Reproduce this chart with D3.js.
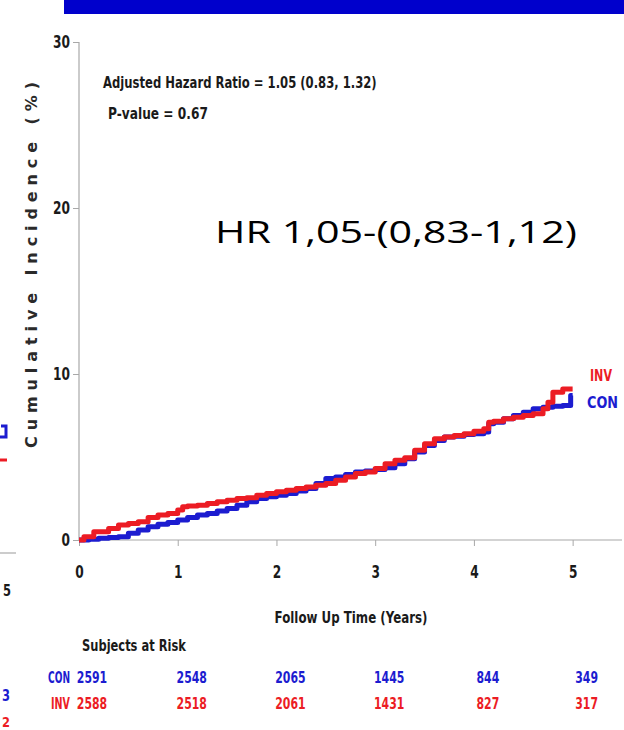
<!DOCTYPE html>
<html>
<head>
<meta charset="utf-8">
<script src="https://cdn.jsdelivr.net/npm/d3@7"></script>
<style>
  body { margin: 0; background: #fff; }
  svg { display: block; }
</style>
</head>
<body>
<div id="chart"></div>
<script>
// values
const years = [0, 1, 2, 3, 4, 5];
const yTicks = [0, 10, 20, 30];
const conAtRisk = [2591, 2548, 2065, 1445, 844, 349];
const invAtRisk = [2588, 2518, 2061, 1431, 827, 317];

const conTime = [0, 0.1, 0.2, 0.3, 0.4, 0.5, 0.6, 0.7, 0.8, 0.9, 1.0, 1.1, 1.2, 1.3, 1.4, 1.5, 1.6, 1.7, 1.8, 1.9,
  2.0, 2.1, 2.2, 2.3, 2.4, 2.5, 2.6, 2.7, 2.8, 2.9, 3.0, 3.1, 3.2, 3.3, 3.4, 3.5, 3.6, 3.7, 3.8, 3.9,
  4.0, 4.1, 4.15, 4.2, 4.3, 4.4, 4.5, 4.6, 4.7, 4.8, 4.9, 4.98, 5.0];
const conIncidence = [0, 0.05, 0.1, 0.15, 0.2, 0.4, 0.6, 0.8, 0.95, 1.05, 1.2, 1.35, 1.5, 1.6, 1.75, 1.9, 2.1, 2.3, 2.5, 2.6,
  2.7, 2.8, 2.95, 3.1, 3.4, 3.7, 3.8, 3.95, 4.1, 4.15, 4.25, 4.35, 4.6, 4.9, 5.3, 5.7, 6.0, 6.2, 6.25, 6.35,
  6.4, 6.5, 7.0, 7.1, 7.3, 7.5, 7.7, 7.9, 8.0, 8.05, 8.1, 8.7, 8.7];

const invTime = [0, 0.05, 0.15, 0.3, 0.4, 0.5, 0.6, 0.7, 0.8, 0.9, 1.0, 1.05, 1.1, 1.2, 1.3, 1.4, 1.5, 1.6, 1.7, 1.8, 1.9,
  2.0, 2.1, 2.2, 2.3, 2.4, 2.5, 2.6, 2.7, 2.8, 2.9, 3.0, 3.1, 3.2, 3.3, 3.4, 3.5, 3.6, 3.7, 3.8, 3.9,
  4.0, 4.1, 4.15, 4.2, 4.3, 4.4, 4.5, 4.6, 4.7, 4.75, 4.8, 4.9, 5.0];
const invIncidence = [0, 0.2, 0.5, 0.7, 0.9, 1.0, 1.1, 1.35, 1.5, 1.6, 1.8, 2.0, 2.05, 2.1, 2.2, 2.3, 2.4, 2.5, 2.55, 2.7, 2.8,
  2.9, 3.0, 3.1, 3.2, 3.3, 3.4, 3.6, 3.8, 4.0, 4.1, 4.3, 4.6, 4.8, 4.95, 5.4, 5.8, 6.1, 6.2, 6.3, 6.4,
  6.55, 6.7, 7.1, 7.15, 7.3, 7.4, 7.5, 7.6, 7.9, 8.3, 8.9, 9.1, 9.1];

const RED = '#ec1c24';
const BLUE = '#1c1cd0';
const INK = '#1a1a1a';
const font = "'DejaVu Sans', sans-serif";

const width = 624, height = 730;

const svg = d3.select('#chart').append('svg')
    .attr('width', width)
    .attr('height', height);

// the chart font is a narrow bold: draw DejaVu Bold and scale it sideways to the measured width
const label = (txt, xPos, yPos, w, color = INK, size = 16, anchor = 'start') => {
  const t = svg.append('text')
      .attr('text-anchor', anchor)
      .attr('font-family', font).attr('font-weight', 'bold').attr('font-size', size)
      .attr('fill', color)
      .text(txt);
  const k = w / t.node().getComputedTextLength();
  t.attr('transform', `translate(${xPos},${yPos}) scale(${k},1)`);
  return t;
};

// blue banner at top
svg.append('rect')
    .attr('x', 64).attr('y', 0)
    .attr('width', width - 64).attr('height', 14)
    .attr('fill', '#0000cc');

// bits of the neighbouring panel cut off at the left edge
svg.append('path').attr('d', 'M1,426 L6,426 L6,437 L0,437').attr('fill', 'none').attr('stroke', BLUE).attr('stroke-width', 3);
svg.append('path').attr('d', 'M0,460 L7,460').attr('stroke', RED).attr('stroke-width', 3);
svg.append('line').attr('x1', 0).attr('x2', 16).attr('y1', 553).attr('y2', 553).attr('stroke', '#999');
label('5', 3, 596, 8);
label('3', 2, 701, 8, BLUE);
label('2', 2, 727, 8, RED, 14);

const x = d3.scaleLinear().domain([0, 5.5]).range([79, 622]);
const y = d3.scaleLinear().domain([0, 30]).range([540, 42]);

// axes
const xAxis = svg.append('g')
    .attr('transform', `translate(0,${y(0)})`)
    .call(d3.axisBottom(x).tickValues(years).tickSize(6).tickPadding(20).tickFormat(d3.format('d')));
const yAxis = svg.append('g')
    .attr('transform', `translate(${x(0)},0)`)
    .call(d3.axisLeft(y).tickValues(yTicks).tickSize(6).tickPadding(3).tickFormat(d3.format('d')));

[xAxis, yAxis].forEach(g => {
  g.select('.domain').attr('stroke', '#a8a8a8').attr('stroke-width', 1.2);
  g.selectAll('.tick line').attr('stroke', '#a8a8a8');
  g.selectAll('.tick text')
      .attr('font-family', font)
      .attr('font-weight', 'bold')
      .attr('font-size', 17)
      .attr('fill', INK)
      .each(function(d) {
        const t = d3.select(this);
        const k = String(d).length * 8.5 / this.getComputedTextLength();
        t.attr('x', (+t.attr('x') || 0) / k).attr('transform', `scale(${k},1)`);
      });
});
// plain axis lines without the outer ticks
yAxis.select('.domain').attr('d', `M0,${y(30)}V${y(0)}`);
xAxis.select('.domain').attr('d', `M${x(0)},0H${x(5.5)}`);

svg.append('text')
    .attr('transform', `translate(37,${(82 + 448) / 2}) rotate(-90)`)
    .attr('text-anchor', 'middle')
    .attr('font-family', font)
    .attr('font-weight', 'bold')
    .attr('font-size', 16)
    .attr('fill', '#2a2a2a')
    .attr('textLength', 366)
    .attr('lengthAdjust', 'spacing')
    .text('Cumulative Incidence (%)');

label('Follow Up Time (Years)', 351, 623, 153, INK, 16, 'middle');

// curves
const line = d3.line()
    .x(d => x(d[0]))
    .y(d => y(d[1]))
    .curve(d3.curveStepAfter);

const series = [
  { name: 'CON', color: BLUE, pts: d3.zip(conTime, conIncidence) },
  { name: 'INV', color: RED, pts: d3.zip(invTime, invIncidence) }
];

svg.append('g')
  .selectAll('path')
    .data(series)
  .enter().append('path')
    .attr('d', d => line(d.pts))
    .attr('fill', 'none')
    .attr('stroke', d => d.color)
    .attr('stroke-width', 5)
    .attr('stroke-linejoin', 'round');

// series labels at line ends
label('INV', 590, 381, 22, RED);
label('CON', 587, 408, 31, BLUE);

// statistics
label('Adjusted Hazard Ratio = 1.05 (0.83, 1.32)', 103, 88, 274);
label('P-value = 0.67', 108, 119, 100);

svg.append('text').attr('x', 215).attr('y', 243)
    .attr('font-family', "'Open Sans', 'Noto Sans', sans-serif")
    .attr('font-size', 31)
    .attr('fill', '#000')
    .attr('textLength', 362)
    .attr('lengthAdjust', 'spacingAndGlyphs')
    .text('HR 1,05-(0,83-1,12)');

// subjects at risk table
label('Subjects at Risk', 82, 651, 104);

const rows = [
  { name: 'CON', color: BLUE, values: conAtRisk, y: 683 },
  { name: 'INV', color: RED, values: invAtRisk, y: 709 }
];

rows.forEach(r => {
  label(r.name, 70, r.y, r.name === 'CON' ? 22 : 19, r.color, 16, 'end');
  r.values.forEach((v, i) => {
    const dx = i === 0 ? 13 : 14;
    label(String(v), x(years[i]) + dx, r.y, String(v).length * 7.6, r.color, 16, 'middle');
  });
});
</script>
</body>
</html>
